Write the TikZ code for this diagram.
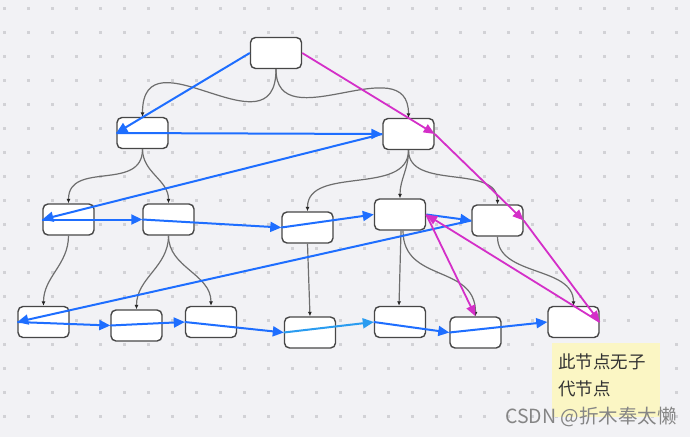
\documentclass[tikz,border=0pt]{standalone}
\usepackage{fontspec}
\newfontfamily\cjk{Noto Sans CJK SC}
\usetikzlibrary{arrows.meta}

\definecolor{bgcol}{HTML}{F2F2F5}
\definecolor{dotcol}{HTML}{D2D2D6}
\definecolor{edgecol}{HTML}{6E6E6E}
\definecolor{bluecol}{HTML}{1E6EFF}
\definecolor{cyancol}{HTML}{2A9CF0}
\definecolor{pinkcol}{HTML}{D42FC8}
\definecolor{notecol}{HTML}{FBF6C4}

\tikzset{
  box/.style={draw=black!72, line width=1.4pt, fill=white, rounded corners=5pt,
    minimum width=51pt, minimum height=31pt, inner sep=0pt},
  tree/.style={draw=edgecol, line width=1.2pt, -{Latex[length=4.5pt,width=4pt,color=black!85]}},
  bfs/.style={draw=bluecol, line width=2pt, -{Triangle[length=11pt,width=10pt]}},
  dfs/.style={draw=pinkcol, line width=1.8pt, -{Triangle[length=11pt,width=9pt]}},
  note/.style={fill=notecol, minimum width=108pt, minimum height=74pt, inner sep=0pt},
  notetext/.style={text=black!80, align=left, inner sep=0pt, font=\cjk\fontsize{17.5}{27}\selectfont},
  wmark/.style={text=black!48, inner sep=0pt, font=\cjk\fontsize{19.5}{22}\selectfont},
}

\begin{document}
\begin{tikzpicture}[x=1pt, y=-1pt]
  \useasboundingbox (0,0) rectangle (690,437);
  \fill[bgcol] (0,0) rectangle (690,437);
  % dotted grid
  \foreach \i in {0,...,28}
    \foreach \j in {0,...,17}
      \fill[dotcol] (3.4+24*\i, 7.2+24*\j) rectangle ++(2.6,2.6);

  % tree nodes
  \node[box] (root) at (276,53) {};
  \node[box] (c1) at (142.5,133) {};
  \node[box] (c2) at (408.5,134) {};
  \node[box] (g1) at (68.5,219.5) {};
  \node[box] (g2) at (168.5,219.5) {};
  \node[box] (g3) at (307.5,227.5) {};
  \node[box] (g4) at (400,214.5) {};
  \node[box] (g5) at (497.5,220.5) {};
  \node[box] (h1) at (43.5,322) {};
  \node[box] (h2) at (136.5,325.5) {};
  \node[box] (h3) at (211,322) {};
  \node[box] (h4) at (310,332.5) {};
  \node[box] (h5) at (400,322) {};
  \node[box] (h6) at (475.5,332.5) {};
  \node[box] (h7) at (573.5,322) {};

  % parent -> child
  \draw[tree] (root.south) to[out=-90,in=90,looseness=1.6] (c1.north);
  \draw[tree] (root.south) to[out=-90,in=90,looseness=1.3] (c2.north);
  \draw[tree] (c1.south) to[out=-90,in=90,looseness=1.2] (g1.north);
  \draw[tree] (c1.south) to[out=-90,in=90] (g2.north);
  \draw[tree] (c2.south) to[out=-90,in=90] (g3.north);
  \draw[tree] (c2.south) to[out=-90,in=90] (g4.north);
  \draw[tree] (c2.south) to[out=-90,in=90] (g5.north);
  \draw[tree] (g1.south) to[out=-90,in=90] (h1.north);
  \draw[tree] (g2.south) to[out=-90,in=90] (h2.north);
  \draw[tree] (g2.south) to[out=-90,in=90] (h3.north);
  \draw[tree] (g3.south) -- (h4.north);
  \draw[tree] ([xshift=1pt]g4.south) -- ([xshift=-1pt]h5.north);
  \draw[tree] ([xshift=3pt]g4.south) to[out=-90,in=90,looseness=1.2] (h6.north);
  \draw[tree] (g5.south) to[out=-90,in=90] (h7.north);

  % breadth first
  \draw[bfs] (root.west) -- (c1.west);
  \draw[bfs] (c1.west) -- (c2.west);
  \draw[bfs] (c2.west) -- (g1.west);
  \draw[bfs] (g1.west) -- (g2.west);
  \draw[bfs] (g2.west) -- (g3.west);
  \draw[bfs] (g3.west) -- (g4.west);
  \draw[bfs] (g4.east) -- (g5.west);
  \draw[bfs] (g5.west) -- (h1.west);
  \draw[bfs] (h1.west) -- (h2.west);
  \draw[bfs] (h2.west) -- (h3.west);
  \draw[bfs] (h3.west) -- (h4.west);
  \draw[bfs, draw=cyancol] (h4.west) -- (h5.west);
  \draw[bfs] (h5.west) -- (h6.west);
  \draw[bfs] (h6.west) -- (h7.west);

  % depth first
  \draw[dfs] (root.east) -- (c2.east);
  \draw[dfs] (c2.east) -- (g5.east);
  \draw[dfs] (g5.east) -- (h7.east);
  \draw[dfs] (h7.east) -- (g4.east);
  \draw[dfs] (g4.east) -- (h6.north);

  % sticky note
  \node[note] (note) at (606,380) {};
  \node[notetext, anchor=west] (notetext) at ([xshift=6pt,yshift=4.5pt]note.west) {此节点无子\\代节点};

  \node[wmark, anchor=east] (csdn) at (677,417) {CSDN @折木奉太懒};
\end{tikzpicture}
\end{document}
